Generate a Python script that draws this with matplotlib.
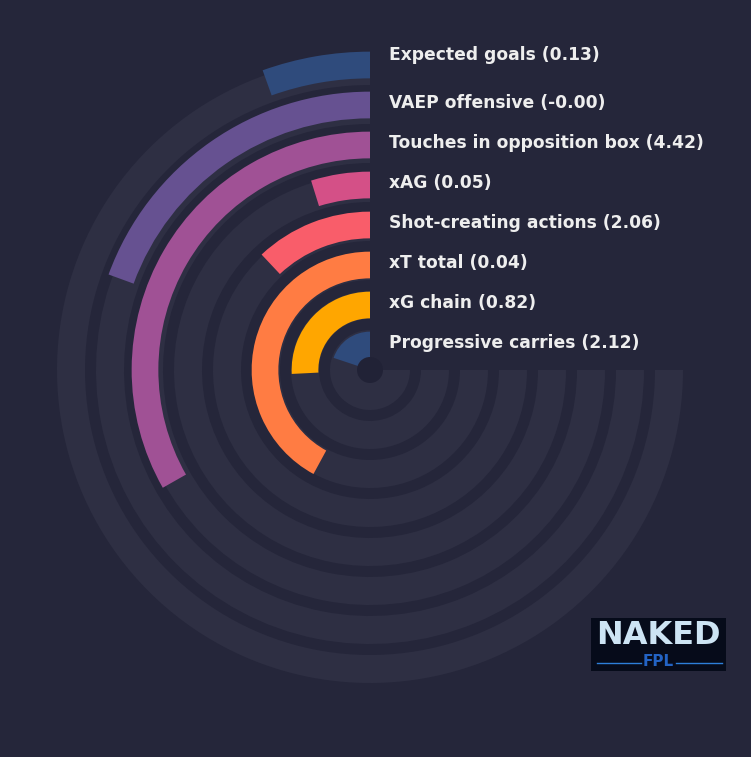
import numpy as np
import matplotlib
matplotlib.use("Agg")
import matplotlib.pyplot as plt

# stats, listed outer ring first
labels = ["Expected goals", "VAEP offensive", "Touches in opposition box", "xAG",
          "Shot-creating actions", "xT total", "xG chain", "Progressive carries"]
values = [0.13, -0.0, 4.42, 0.05, 2.06, 0.04, 0.82, 2.12]
percentiles = [7.3, 25.9, 44.3, 6.4, 16.0, 56.1, 34.4, 26.5]

colors = ["#2f4b7c", "#665191", "#a05195", "#d45087", "#f95d6a", "#ff7c43", "#ffa600", "#2f4b7c"]
bg = "#25263a"
track = "#2e2f43"
max_angle = 1.5 * np.pi

fig = plt.figure(figsize=(7.51, 7.57), dpi=100, facecolor=bg)
# radial axis in pixels, 320 px from centre to edge
ax = fig.add_axes([50 / 751, 67 / 757, 640 / 751, 640 / 757], projection="polar")
ax.set_theta_zero_location("N")
ax.set_theta_direction(1)
ax.set_ylim(0, 320)
ax.axis("off")

n = len(labels)
for i in range(n):
    k = n - 1 - i
    r_bar = 25 + 40 * k
    r_track = 26 + 39 * k
    ax.barh(r_track, max_angle, left=0, height=28, color=track)
    ax.barh(r_bar, percentiles[i] / 100 * max_angle, left=0, height=26.7, color=colors[i])
    dy = 10 if i == 0 else 2
    ax.annotate(f"{labels[i]} ({values[i]:.2f})", xy=(0, r_bar), xytext=(19, dy),
                textcoords="offset pixels", ha="left", va="center",
                color="#eeeeee", fontsize=12.3, fontweight="bold")

ax.barh(6.5, 2 * np.pi, left=0, height=13, color="#212236", zorder=5)

# logo
lax = fig.add_axes([591 / 751, 86 / 757, 135 / 751, 53 / 757])
lax.set_facecolor("#060b1a")
lax.set_xlim(0, 135)
lax.set_ylim(0, 53)
lax.set_xticks([])
lax.set_yticks([])
for s in lax.spines.values():
    s.set_visible(False)
lax.text(67, 35, "NAKED", ha="center", va="center", fontsize=23, fontweight="bold", color="#cde4f4")
lax.text(67, 9, "FPL", ha="center", va="center", fontsize=11, fontweight="bold", color="#2363c4")
lax.plot([6, 50], [8, 8], color="#2d7fd9", lw=1)
lax.plot([85, 131], [8, 8], color="#2d7fd9", lw=1)

fig.savefig("out.png", dpi=100, facecolor=bg)
